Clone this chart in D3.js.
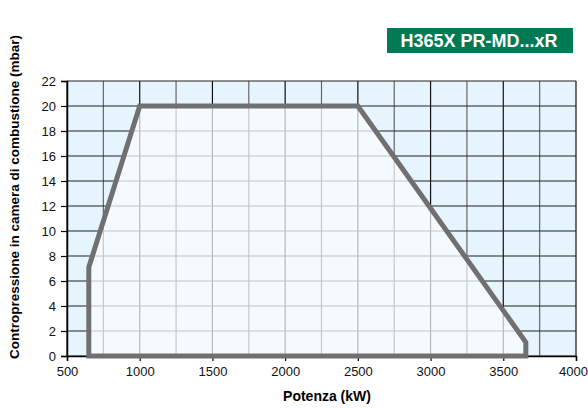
<!DOCTYPE html>
<html>
<head>
<meta charset="utf-8">
<script src="https://cdn.jsdelivr.net/npm/d3@7"></script>
<style>
  body { margin: 0; background: #fff; }
  text { font-family: "Liberation Sans", Arial, sans-serif; }
</style>
</head>
<body>
<div id="my_dataviz"></div>
<script>
// working range envelope (kW, mbar)
var potenza = [650, 650, 1000, 2500, 3655, 3655];
var pressione = [0, 7.1, 20, 20, 1.1, 0];
var xTicks = [500, 1000, 1500, 2000, 2500, 3000, 3500, 4000];
var yTicks = [0, 2, 4, 6, 8, 10, 12, 14, 16, 18, 20, 22];
var xGrid = d3.range(500, 4001, 250);
var titolo = "H365X PR-MD...xR";

var margin = {top: 81, right: 12, bottom: 52, left: 67},
    width = 588 - margin.left - margin.right,
    height = 408 - margin.top - margin.bottom;

var root = d3.select("#my_dataviz")
  .append("svg")
    .attr("width", 588)
    .attr("height", 408);

var svg = root.append("g")
    .attr("transform", "translate(" + margin.left + "," + margin.top + ")");

var x = d3.scaleLinear().domain([500, 4000]).range([0, width]);
var y = d3.scaleLinear().domain([0, 22]).range([height, 0]);

var pts = potenza.map(function(d, i) { return [x(d), y(pressione[i])]; });
var line = d3.line();

// background outside envelope
svg.append("rect")
    .attr("width", width).attr("height", height)
    .style("fill", "#e6f4fd");

// dark grid (outside)
svg.selectAll("vdark").data(xGrid).enter().append("line")
    .attr("x1", function(d) { return x(d); }).attr("x2", function(d) { return x(d); })
    .attr("y1", 0).attr("y2", height)
    .attr("stroke", function(d) { return d % 500 == 0 ? "#111" : "#666"; })
    .attr("stroke-width", 1.2);
svg.selectAll("hdark").data(yTicks).enter().append("line")
    .attr("x1", 0).attr("x2", width)
    .attr("y1", function(d) { return y(d); }).attr("y2", function(d) { return y(d); })
    .attr("stroke", "#222")
    .attr("stroke-width", 1.2);

// envelope fill
svg.append("clipPath").attr("id", "env")
  .append("path").attr("d", line(pts) + "Z");

svg.append("path")
    .attr("d", line(pts) + "Z")
    .style("fill", "#f5faff");

// light grid inside envelope
var inner = svg.append("g").attr("clip-path", "url(#env)");
inner.selectAll("vlight").data(xGrid).enter().append("line")
    .attr("x1", function(d) { return x(d); }).attr("x2", function(d) { return x(d); })
    .attr("y1", 0).attr("y2", height)
    .attr("stroke", function(d) { return d % 500 == 0 ? "#b8b8b8" : "#c8c8c8"; })
    .attr("stroke-width", 1.2);
inner.selectAll("hlight").data(yTicks).enter().append("line")
    .attr("x1", 0).attr("x2", width)
    .attr("y1", function(d) { return y(d); }).attr("y2", function(d) { return y(d); })
    .attr("stroke", "#c4c4c4")
    .attr("stroke-width", 1.2);

// axes
var xAxis = svg.append("g")
    .attr("transform", "translate(0," + height + ")")
    .call(d3.axisBottom(x).tickValues(xTicks).tickFormat(d3.format("d")).tickSize(5).tickPadding(6));
var yAxis = svg.append("g")
    .call(d3.axisLeft(y).tickValues(yTicks).tickFormat(d3.format("d")).tickSize(6).tickPadding(5));
[xAxis, yAxis].forEach(function(a) {
  a.select(".domain").attr("stroke", "#000").attr("stroke-width", 1.5);
  a.selectAll(".tick line").attr("stroke", "#000").attr("stroke-width", 1.2);
  a.selectAll(".tick text").style("font-size", "13px").attr("fill", "#111")
    .style("font-family", "'Liberation Sans', Arial, sans-serif");
});
// keep last x label inside the page
xAxis.selectAll(".tick text").filter(function(d) { return d == 4000; }).attr("dx", -3);

// envelope outline
svg.append("path")
    .attr("d", line(pts) + "Z")
    .style("fill", "none")
    .attr("stroke", "#707070")
    .attr("stroke-width", 5)
    .attr("stroke-linejoin", "miter");

// axis labels
root.append("text")
    .attr("x", 327).attr("y", 401)
    .attr("text-anchor", "middle")
    .style("font-size", "14px").style("font-weight", "bold")
    .text("Potenza (kW)");

root.append("text")
    .attr("transform", "translate(19,197) rotate(-90)")
    .attr("text-anchor", "middle")
    .style("font-size", "13.5px").style("font-weight", "bold")
    .text("Contropressione in camera di combustione (mbar)");

// model box
root.append("rect")
    .attr("x", 387).attr("y", 28).attr("width", 186).attr("height", 25)
    .style("fill", "#007a55");
root.append("text")
    .attr("x", 479).attr("y", 47)
    .attr("text-anchor", "middle")
    .attr("fill", "#fff")
    .style("font-size", "18px").style("font-weight", "bold")
    .text(titolo);
</script>
</body>
</html>
